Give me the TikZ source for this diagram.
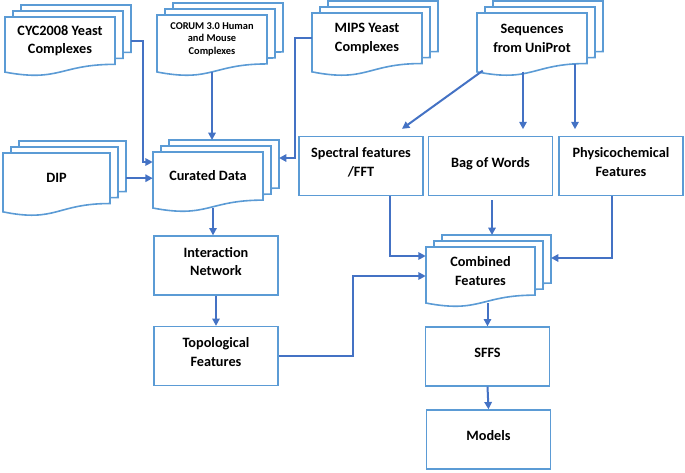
\documentclass[tikz,border=0pt]{standalone}
\usepackage{fontspec}
\setmainfont{Carlito}
\usetikzlibrary{arrows.meta,calc}
\definecolor{boxblue}{RGB}{91,155,213}
\definecolor{linkblue}{RGB}{68,114,196}
\newcommand{\boxfont}{\fontsize{10.7}{14}\selectfont\bfseries}
\newcommand{\smallboxfont}{\fontsize{7.8}{9.4}\selectfont\bfseries}

% stack of three sheets with a wavy bottom
% [node options]{name}{left}{top}{width}{height}{text}
\newcommand{\docstack}[7][]{%
  \foreach \k in {2,1,0} {
    \pgfmathsetmacro\sxa{#3+8*\k}
    \pgfmathsetmacro\sya{#4-6*\k}
    \pgfmathsetmacro\sxb{\sxa+#5}
    \pgfmathsetmacro\sxm{\sxa+0.5*#5}
    \pgfmathsetmacro\syr{\sya+0.802*#6}
    \pgfmathsetmacro\syc{\sya+1.1075*#6}
    \pgfmathsetmacro\syl{\sya+0.934*#6}
    \filldraw[sheet] (\sxa,\sya) -- (\sxb,\sya) -- (\sxb,\syr)
      .. controls (\sxm,\syr) and (\sxm,\syc) .. (\sxa,\syl) -- cycle;
  }
  \node[doc,minimum width={0.75pt*#5},minimum height={0.6pt*#6},#1] (#2) at ({#3+#5/2},{#4+0.4*#6}) {#7};
  \coordinate (#2-ne) at ({#3+#5+16},{#4-12});
}

\begin{document}
\begin{tikzpicture}
 [x=0.75pt,y=-0.75pt,
  sheet/.style={draw=boxblue,fill=white,line width=1.2pt},
  doc/.style={align=center,font=\boxfont,inner sep=0pt},
  plainbox/.style={draw=boxblue,line width=1.2pt,align=center,font=\boxfont,text depth=6pt,minimum width=93pt,minimum height=44pt},
  conn/.style={draw=linkblue,line width=1.5pt,-{Triangle[length=5.5pt,width=5.5pt]}}]
 \useasboundingbox (0,0) rectangle (685,472);

 % sources
 \docstack{cyc}{5}{17}{110}{59}{CYC2008 Yeast\\Complexes}
 \docstack[font=\smallboxfont]{cor}{157}{15}{110}{61}{CORUM 3.0 Human\\and Mouse\\Complexes}
 \docstack{mips}{312}{13}{110}{63}{MIPS Yeast\\Complexes}
 \docstack{seq}{477}{13}{110}{63}{Sequences\\from UniProt}
 \docstack{dip}{3}{153}{107}{63}{DIP}
 \docstack{cur}{153}{152}{110}{60}{Curated Data}
 \docstack{comb}{426}{247}{109}{60}{Combined\\Features}

 % features and steps
 \node[plainbox] (spec) at (361,166) {Spectral features\\/FFT};
 \node[plainbox] (bow) at (490.5,166) {Bag of Words};
 \node[plainbox] (phys) at (621,166) {Physicochemical\\Features};
 \node[plainbox] (inter) at (216,265.5) {Interaction\\Network};
 \node[plainbox] (topo) at (216,356) {Topological\\Features};
 \node[plainbox] (sffs) at (487.5,356.5) {SFFS};
 \node[plainbox] (models) at (488.5,439.5) {Models};

 % connectors
 \draw[conn] ([xshift=12pt]cyc.east) -- ++(12,0) |- ($(cur.west)+(0,-14)$);
 \draw[conn] ($(cor.south)+(0,8)$) -- (cor.south |- cur-ne);
 \draw[conn] (mips.west) -- ++(-17,0) |- ($(cur-ne)+(0,18)$);
 \draw[conn] ([xshift=12pt]dip.east) -- (cur.west |- dip.east);
 \draw[conn] ($(seq.south west)+(6,7)$) -- ($(spec.north)+(41,-7)$);
 \draw[conn,shorten >=5pt] ($(seq.south)+(-9,8)$) -- ($(seq.south |- bow.north)+(-9,0)$);
 \draw[conn,shorten >=5pt] ($(seq.south)+(43,0)$) -- ($(seq.south |- phys.north)+(43,0)$);
 \draw[conn] ($(cur.south)+(5,8)$) -- ($(cur.south |- inter.north)+(5,0)$);
 \draw[conn] (inter.south) -- (topo.north);
 \draw[conn] (topo.east) -- ++(74,0) |- ($(comb.west)+(0,5)$);
 \draw[conn] ($(spec.south)+(29,0)$) |- ($(comb.west)+(0,-15)$);
 \draw[conn,shorten <=3pt] ($(bow.south)+(1.5,0)$) -- ($(bow.south |- comb-ne)+(1.5,0)$);
 \draw[conn] ($(phys.south)+(-9,0)$) |- ($(comb-ne)+(0,23)$);
 \draw[conn] ($(comb.south)+(7,8)$) -- ($(comb.south |- sffs.north)+(7,0)$);
 \draw[conn] (sffs.south) -- (models.north);
\end{tikzpicture}
\end{document}
